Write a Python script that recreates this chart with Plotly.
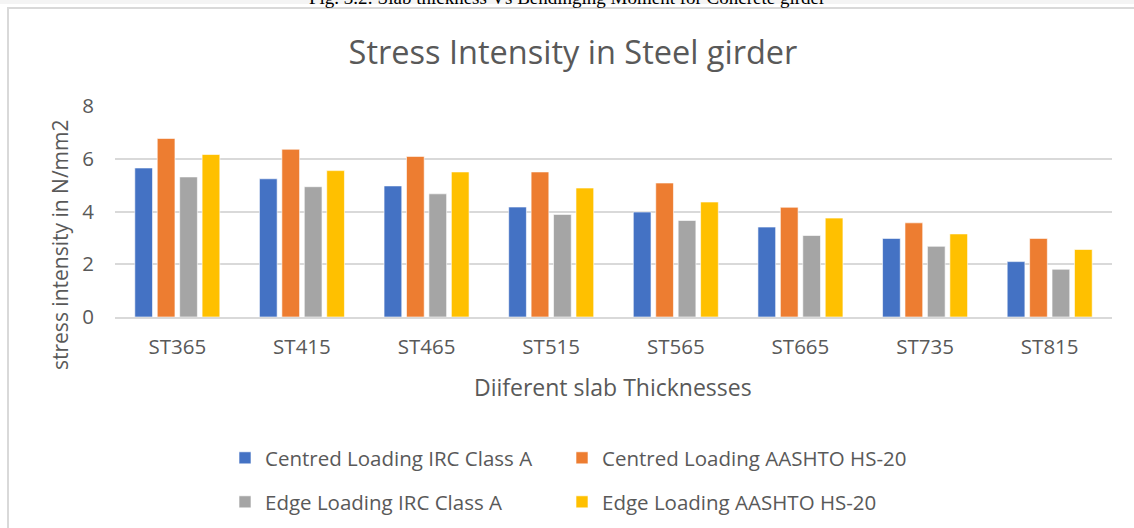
import plotly.graph_objects as go

categories = ["ST365", "ST415", "ST465", "ST515", "ST565", "ST665", "ST735", "ST815"]
centred_irc = [5.65, 5.24, 4.97, 4.17, 3.98, 3.41, 2.98, 2.10]
centred_aashto = [6.77, 6.36, 6.09, 5.50, 5.08, 4.16, 3.57, 2.98]
edge_irc = [5.31, 4.94, 4.67, 3.89, 3.66, 3.09, 2.68, 1.81]
edge_aashto = [6.16, 5.55, 5.50, 4.89, 4.36, 3.75, 3.15, 2.56]

series_names = [
    "Centred Loading IRC Class A",
    "Centred Loading AASHTO HS-20",
    "Edge Loading IRC Class A",
    "Edge Loading AASHTO HS-20",
]
series_values = [centred_irc, centred_aashto, edge_irc, edge_aashto]
colors = ["#4472C4", "#ED7D31", "#A5A5A5", "#FFC000"]
legend_ids = ["legend", "legend2", "legend3", "legend4"]

FONT = "Open Sans"
TXT = "#595959"

W, H = 1134, 528
L, R, T, B = 115, W - 1112, 106, H - 317
pw, ph = W - L - R, H - T - B

def px_x(x):
    return (x - L) / pw

def px_y(y):
    return (H - B - y) / ph

fig = go.Figure()
for name, vals, col, lg in zip(series_names, series_values, colors, legend_ids):
    fig.add_trace(go.Bar(
        x=categories, y=vals, name=name, legend=lg, showlegend=True,
        marker=dict(color=col, line=dict(color="rgba(255,255,255,0.6)", width=1)),
    ))

def legend_box(xpx, ypx):
    return dict(orientation="h", x=px_x(xpx), xanchor="left", y=px_y(ypx), yanchor="middle",
                font=dict(size=20.5, color=TXT), itemwidth=30, bgcolor="rgba(0,0,0,0)")

fig.update_layout(
    width=W, height=H,
    margin=dict(l=L, r=R, t=T, b=B, autoexpand=False),
    showlegend=True,
    paper_bgcolor="white", plot_bgcolor="white",
    font=dict(family=FONT, color=TXT, size=20.5),
    barmode="group", bargap=0.28, bargroupgap=0.21,
    title=dict(text="Stress Intensity in Steel girder", x=573 / W, xanchor="center",
               y=1 - 53 / H, yanchor="middle", font=dict(size=32.5, color=TXT, family=FONT)),
    xaxis=dict(showgrid=False, showline=True, linecolor="#D9D9D9", linewidth=1.5,
               ticks="", tickfont=dict(size=20.5, color=TXT), ticklabelstandoff=11,
               automargin=False),
    yaxis=dict(range=[0, 8], dtick=2, showgrid=True, gridcolor="#D9D9D9", gridwidth=1.5,
               zeroline=False, showline=False, ticks="", tickfont=dict(size=20.5, color=TXT),
               ticklabelstandoff=20, automargin=False),
    legend=legend_box(225, 458),
    legend2=legend_box(562, 458),
    legend3=legend_box(225, 502),
    legend4=legend_box(562, 502),
)

# axis titles
fig.add_annotation(text="Diiferent slab Thicknesses", xref="paper", yref="paper",
                   x=px_x(613), y=px_y(387), xanchor="center", yanchor="middle",
                   showarrow=False, font=dict(size=23, color=TXT, family=FONT))
fig.add_annotation(text="stress intensity in N/mm2", xref="paper", yref="paper",
                   x=px_x(60), y=px_y(245), xanchor="center", yanchor="middle",
                   textangle=-90, showarrow=False, font=dict(size=21, color=TXT, family=FONT))

# outer chart border and top strip
fig.add_shape(type="rect", xref="paper", yref="paper",
              x0=px_x(0), x1=px_x(W), y0=px_y(4), y1=px_y(0),
              fillcolor="#F4F4F4", line=dict(width=0), layer="below")
fig.add_shape(type="rect", xref="paper", yref="paper",
              x0=px_x(8), x1=px_x(W + 20), y0=px_y(H + 20), y1=px_y(8),
              fillcolor="rgba(0,0,0,0)", line=dict(color="#D9D9D9", width=2))

# cut-off document caption at top
fig.add_annotation(text="Fig. 3.2: Slab thickness Vs Bendinging Moment for Concrete girder",
                   xref="paper", yref="paper", x=px_x(567), y=px_y(10), xanchor="center",
                   yanchor="bottom", showarrow=False,
                   font=dict(family="Liberation Serif", size=19, color="black"))

fig.write_html("out.html", config={"displayModeBar": False},
               post_script="document.body.style.margin='0';document.body.style.overflow='hidden';")
